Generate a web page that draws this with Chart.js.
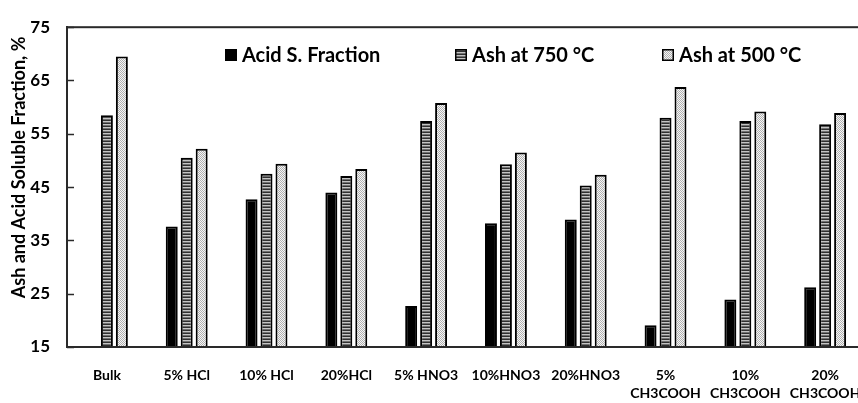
<!DOCTYPE html>
<html>
<head>
<meta charset="utf-8">
<script src="https://cdn.jsdelivr.net/npm/chart.js@4/dist/chart.umd.min.js"></script>
<style>
    html, body { margin: 0; padding: 0; background: #fff; overflow: hidden; }
    #wrap { width: 880px; height: 403px; }
</style>
</head>
<body>
<div id="wrap"><canvas id="ashChart"></canvas></div>
<script>
const categories = [
    "Bulk", "5% HCl", "10% HCl", "20%HCl", "5% HNO3", "10%HNO3", "20%HNO3",
    ["5%", "CH3COOH"], ["10%", "CH3COOH"], ["20%", "CH3COOH"]
];
const acidFraction = [null, 37.6, 42.7, 44.0, 22.7, 38.2, 38.9, 19.1, 23.9, 26.2];
const ash750 = [58.5, 50.5, 47.5, 47.1, 57.4, 49.3, 45.3, 58.0, 57.4, 56.8];
const ash500 = [69.5, 52.2, 49.4, 48.4, 60.8, 51.5, 47.3, 63.8, 59.2, 58.9];
const yTicks = [15, 25, 35, 45, 55, 65, 75];

const FONT = "Lato, 'Open Sans', sans-serif";
Chart.defaults.color = "#000";
Chart.defaults.font.family = FONT;
Chart.defaults.font.weight = "bold";

// fill patterns for the two ash series
function stripePattern() {
    const c = document.createElement("canvas");
    c.width = 3; c.height = 3;
    const g = c.getContext("2d");
    const rows = ["#303030", "#c4c4c4", "#707070"];
    rows.forEach((col, i) => { g.fillStyle = col; g.fillRect(0, i, 3, 1); });
    return g.createPattern(c, "repeat");
}

function dotPattern() {
    const c = document.createElement("canvas");
    c.width = 2; c.height = 2;
    const g = c.getContext("2d");
    g.fillStyle = "#f6f6f6"; g.fillRect(0, 0, 2, 2);
    g.fillStyle = "#b0b0b0"; g.fillRect(0, 0, 1, 1); g.fillRect(1, 1, 1, 1);
    return g.createPattern(c, "repeat");
}

// legend sits inside the plot in the figure, so it is drawn here
const legendX = [225, 455, 662];
const legendY = 55;

const framePlugin = {
    id: "frame",
    afterDatasetsDraw(chart) {
        const { ctx, chartArea: a, scales: { y } } = chart;
        ctx.save();
        ctx.strokeStyle = "#2a2a2a";
        ctx.lineWidth = 2;
        ctx.strokeRect(a.left, a.top, a.right - a.left, a.bottom - a.top);
        ctx.lineWidth = 1.5;
        y.ticks.forEach((t, i) => {
            const py = Math.round(y.getPixelForTick(i)) + 0.5;
            ctx.beginPath();
            ctx.moveTo(a.left, py);
            ctx.lineTo(a.left + 7, py);
            ctx.stroke();
        });

        ctx.font = "bold 20px " + FONT;
        ctx.textBaseline = "middle";
        chart.data.datasets.forEach((ds, i) => {
            const x = legendX[i];
            ctx.fillStyle = ds.backgroundColor;
            ctx.fillRect(x, legendY - 6, 12, 12);
            ctx.lineWidth = 1.5;
            ctx.strokeStyle = "#000";
            ctx.strokeRect(x + 0.75, legendY - 5.25, 10.5, 10.5);
            ctx.fillStyle = "#000";
            ctx.fillText(ds.label, x + 17, legendY + 1);
        });
        ctx.restore();
    }
};

const ctx = document.getElementById("ashChart").getContext("2d");
new Chart(ctx, {
    type: "bar",
    data: {
        labels: categories,
        datasets: [
            {
                label: "Acid S. Fraction",
                data: acidFraction,
                backgroundColor: "#000",
                borderColor: "#000",
                borderWidth: 2
            },
            {
                label: "Ash at 750 °C",
                data: ash750,
                backgroundColor: stripePattern(),
                borderColor: "#000",
                borderWidth: 2
            },
            {
                label: "Ash at 500 °C",
                data: ash500,
                backgroundColor: dotPattern(),
                borderColor: "#000",
                borderWidth: 2
            }
        ]
    },
    options: {
        responsive: true,
        maintainAspectRatio: false,
        animation: false,
        categoryPercentage: 0.5625,
        barPercentage: 0.8,
        layout: { padding: { left: 6, top: 20, right: 11, bottom: 4 } },
        plugins: {
            tooltip: { enabled: false },
            legend: { display: false }
        },
        scales: {
            x: {
                afterFit: scale => { scale.height = 52; },
                grid: { display: false, drawTicks: false },
                border: { display: true, color: "#2a2a2a", width: 2 },
                ticks: {
                    padding: 19,
                    maxRotation: 0,
                    autoSkip: false,
                    font: { size: 14, weight: "bold", family: FONT, lineHeight: 1.3 },
                    color: "#000"
                }
            },
            y: {
                min: 15,
                max: 75,
                afterBuildTicks: scale => {
                    scale.ticks = yTicks.map(v => ({ value: v }));
                },
                afterFit: scale => { scale.width = 61; },
                grid: { display: false, drawTicks: false },
                border: { display: true, color: "#2a2a2a", width: 2 },
                ticks: {
                    padding: 17,
                    font: { size: 17, weight: "bold", family: FONT },
                    color: "#000"
                },
                title: {
                    display: true,
                    text: "         Ash and Acid Soluble Fraction, %",
                    padding: { top: 2, bottom: 4 },
                    font: { size: 18, weight: "bold", family: FONT },
                    color: "#000"
                }
            }
        }
    },
    plugins: [framePlugin]
});
</script>
</body>
</html>
